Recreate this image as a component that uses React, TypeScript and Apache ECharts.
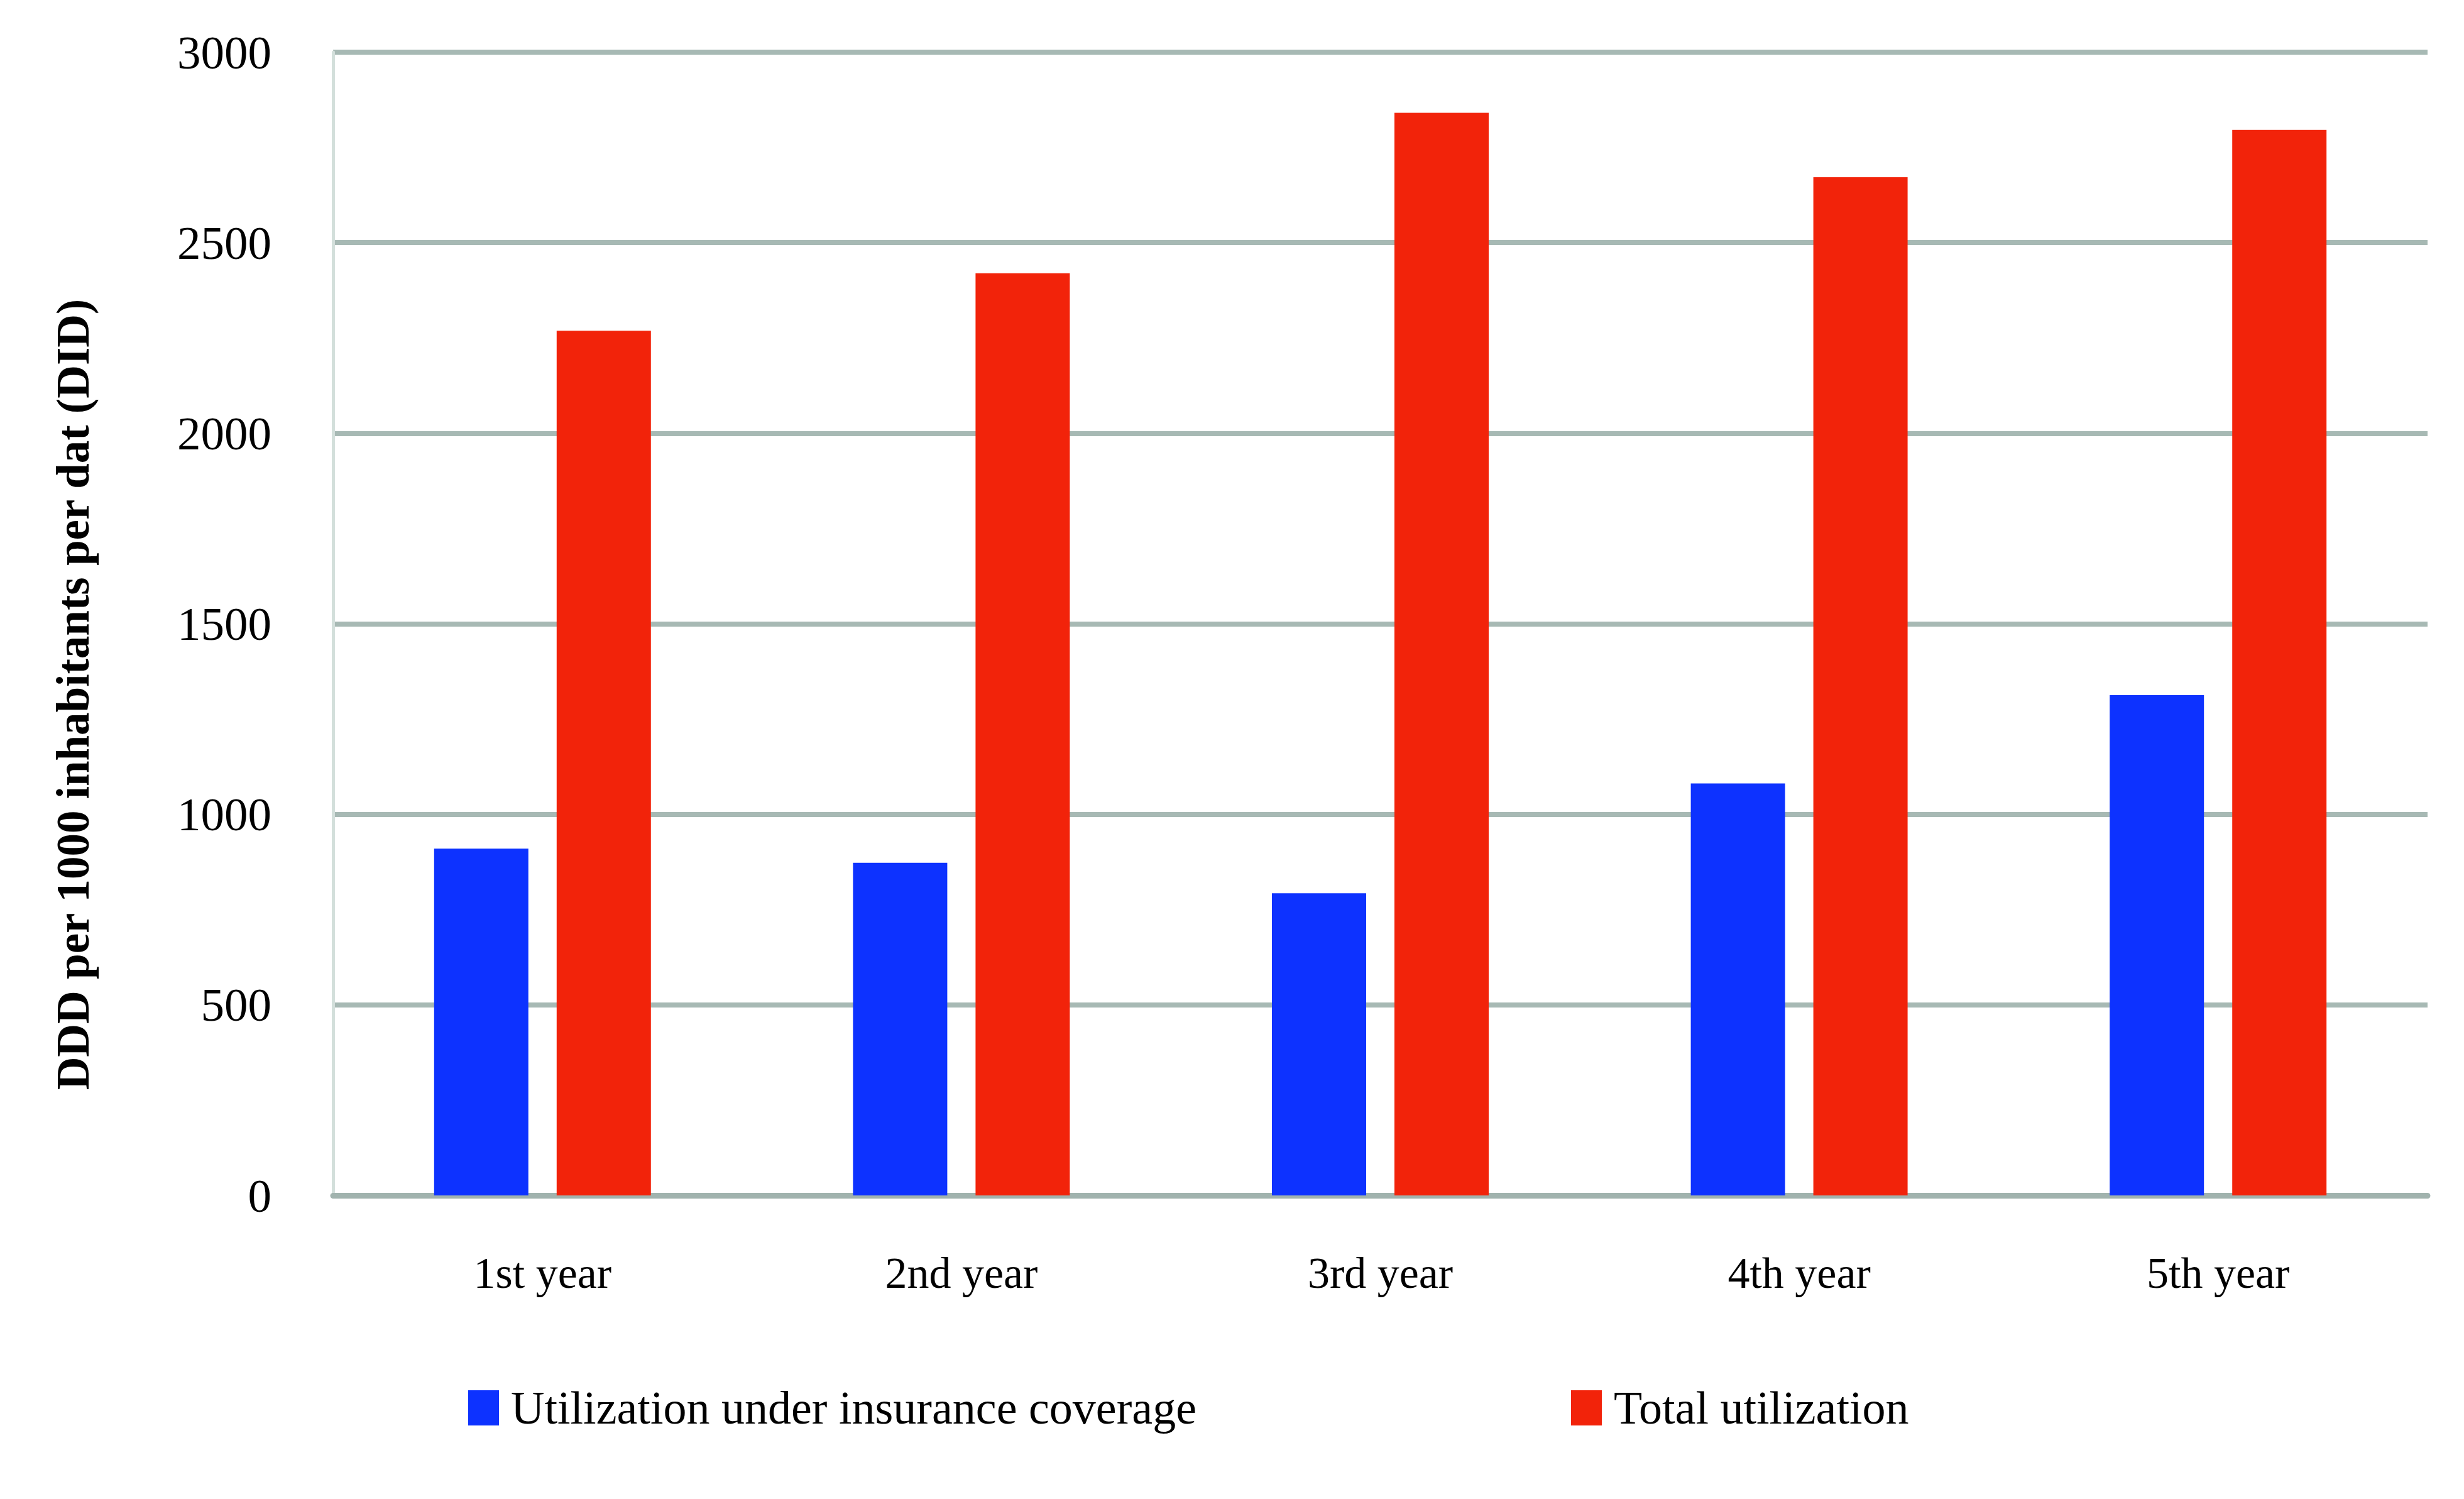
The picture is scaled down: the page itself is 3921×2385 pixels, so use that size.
import React, { useEffect, useRef } from "react";
import * as echarts from "echarts";

// Category labels along the x axis
const years = ["1st year", "2nd year", "3rd year", "4th year", "5th year"];

// DDD per 1000 inhabitants per day, per year
const insuredUse = [910, 873, 793, 1081, 1313];
const totalUse = [2269, 2420, 2841, 2672, 2796];

const seriesNames = ["Utilization under insurance coverage", "Total utilization"];
const seriesColors = ["#0d32ff", "#f2230a"];

// Value axis range
const yMin = 0;
const yMax = 3000;
const yStep = 500;

const FONT = "'Liberation Serif', 'DejaVu Serif', serif";

export default function App() {
  const ref = useRef<HTMLDivElement>(null);

  useEffect(() => {
    if (!ref.current) return;
    const chart = echarts.init(ref.current, undefined, { renderer: "svg" });

    const legendBase = {
      top: 2198,
      orient: "horizontal" as const,
      icon: "rect",
      itemWidth: 49,
      itemHeight: 56,
      textStyle: {
        fontFamily: FONT,
        fontSize: 74,
        color: "#000",
        padding: [0, 0, 0, 14],
      },
    };

    chart.setOption({
      animation: false,
      backgroundColor: "#ffffff",
      textStyle: { fontFamily: FONT },
      grid: {
        left: 530,
        right: 58,
        top: 83,
        bottom: 483,
        containLabel: false,
      },
      legend: [
        { ...legendBase, left: 740, data: [seriesNames[0]] },
        { ...legendBase, left: 2495, data: [seriesNames[1]] },
      ],
      xAxis: {
        type: "category",
        data: years,
        axisLine: { show: true, lineStyle: { color: "#a1b3ae", width: 9 } },
        axisTick: { show: false },
        axisLabel: {
          fontFamily: FONT,
          fontSize: 70,
          color: "#000",
          margin: 88,
        },
        splitLine: { show: false },
      },
      yAxis: {
        type: "value",
        min: yMin,
        max: yMax,
        interval: yStep,
        axisLine: { show: true, lineStyle: { color: "#d3dfdb", width: 5 } },
        axisTick: { show: false },
        axisLabel: {
          fontFamily: FONT,
          fontSize: 75,
          color: "#000",
          margin: 98,
          formatter: (v: number) => String(v),
        },
        splitLine: { show: true, lineStyle: { color: "#a7b9b4", width: 8 } },
      },
      graphic: [
        {
          type: "text",
          x: 116,
          y: 1105,
          rotation: Math.PI / 2,
          style: {
            text: "DDD per 1000 inhabitants per dat (DID)",
            fontFamily: FONT,
            fontSize: 73,
            fontWeight: "bold",
            fill: "#000",
            align: "center",
            verticalAlign: "middle",
          },
        },
      ],
      series: [
        {
          name: seriesNames[0],
          type: "bar",
          data: insuredUse,
          barWidth: 150,
          barGap: "30%",
          itemStyle: { color: seriesColors[0] },
        },
        {
          name: seriesNames[1],
          type: "bar",
          data: totalUse,
          barWidth: 150,
          barGap: "30%",
          itemStyle: { color: seriesColors[1] },
        },
      ],
    });

    return () => chart.dispose();
  }, []);

  return (
    <div
      ref={ref}
      style={{ position: "absolute", left: 0, top: 0, width: 3921, height: 2385 }}
    />
  );
}
